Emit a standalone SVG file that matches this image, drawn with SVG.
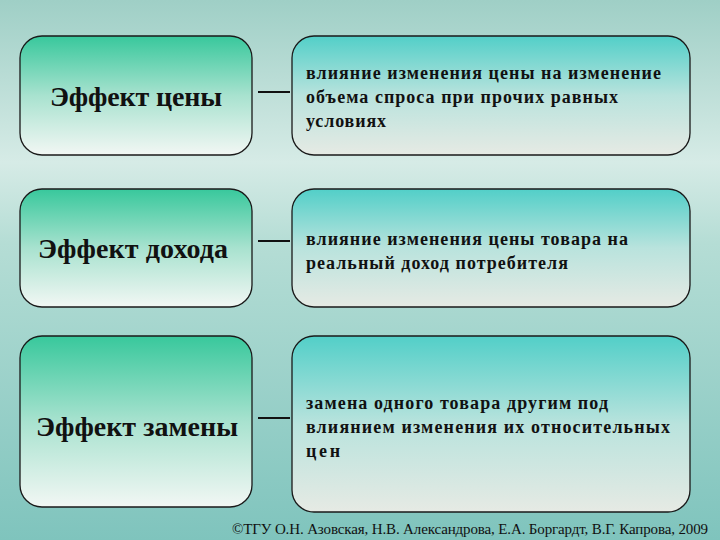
<svg xmlns="http://www.w3.org/2000/svg" width="720" height="540" viewBox="0 0 720 540">
<defs>
<linearGradient id="bg" x1="0" y1="0" x2="0" y2="1">
<stop offset="0" stop-color="#9fcfc6"/><stop offset="0.3" stop-color="#d6ebe6"/><stop offset="0.45" stop-color="#b5ddd5"/><stop offset="1" stop-color="#7fc4bd"/>
</linearGradient>
<linearGradient id="gl" x1="0" y1="0" x2="0" y2="1">
<stop offset="0" stop-color="#38c89c"/><stop offset="0.5" stop-color="#a8e2cf"/><stop offset="1" stop-color="#f2f7f4"/>
</linearGradient>
<linearGradient id="gr" x1="0" y1="0" x2="0" y2="1">
<stop offset="0" stop-color="#52cfc8"/><stop offset="0.5" stop-color="#b9e3dd"/><stop offset="1" stop-color="#e6eae4"/>
</linearGradient>
<style>
.l{fill:url(#gl);stroke:#1a1a1a;stroke-width:1.3}
.r{fill:url(#gr);stroke:#1a1a1a;stroke-width:1.3}
.t{font-family:"Liberation Serif",serif;font-weight:bold;fill:#111}
.big{font-size:28px}
.sm{font-size:18px}
.c{stroke:#111;stroke-width:2}
</style>
</defs>
<rect width="720" height="540" fill="url(#bg)"/>
<g id="n1"><rect class="l" x="20" y="36" width="232" height="119" rx="22"/><text class="t big" x="50" y="106" textLength="172">Эффект цены</text></g>
<g id="d1"><rect class="r" x="292" y="36" width="398" height="119" rx="22"/>
<text class="t sm" x="306" y="79" textLength="355">влияние изменения цены на изменение</text>
<text class="t sm" x="306" y="103" textLength="312">объема спроса при прочих равных</text>
<text class="t sm" x="306" y="127" textLength="80">условиях</text></g>
<g id="n2"><rect class="l" x="20" y="189" width="232" height="118" rx="22"/><text class="t big" x="38" y="258" textLength="190">Эффект дохода</text></g>
<g id="d2"><rect class="r" x="292" y="189" width="398" height="118" rx="22"/>
<text class="t sm" x="306" y="245" textLength="322">влияние изменения цены товара на</text>
<text class="t sm" x="306" y="269" textLength="262">реальный доход потребителя</text></g>
<g id="n3"><rect class="l" x="20" y="336" width="232" height="171" rx="22"/><text class="t big" x="36" y="436" textLength="202">Эффект замены</text></g>
<g id="d3"><rect class="r" x="292" y="336" width="398" height="176" rx="22"/>
<text class="t sm" x="306" y="409" textLength="302">замена одного товара другим под</text>
<text class="t sm" x="306" y="433" textLength="364">влиянием изменения их относительных</text>
<text class="t sm" x="306" y="457" textLength="34">цен</text></g>
<g id="connectors">
<line class="c" x1="258" y1="92" x2="290" y2="92"/>
<line class="c" x1="258" y1="241" x2="290" y2="241"/>
<line class="c" x1="258" y1="418" x2="290" y2="418"/>
</g>
<text x="232" y="534" font-family="Liberation Serif,serif" font-size="15" fill="#111" textLength="476">©ТГУ   О.Н. Азовская, Н.В. Александрова, Е.А. Боргардт, В.Г. Капрова, 2009</text>
</svg>
